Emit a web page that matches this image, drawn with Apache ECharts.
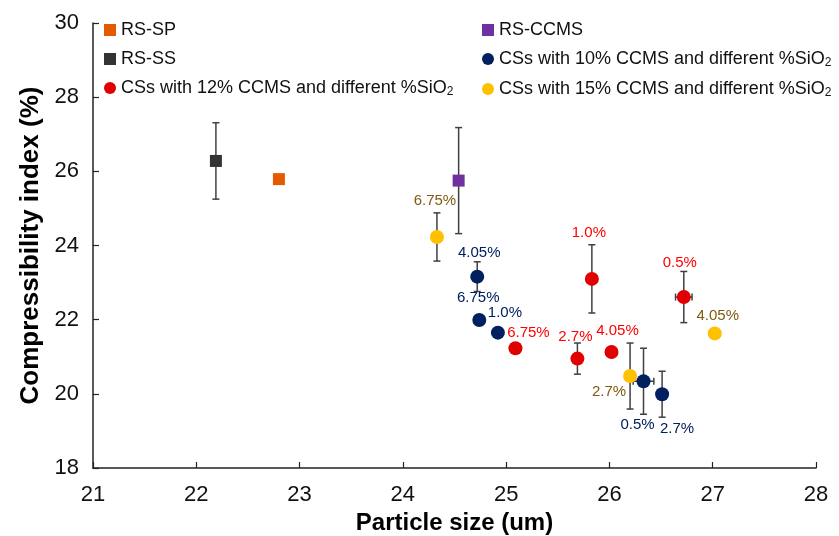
<!DOCTYPE html>
<html>
<head>
<meta charset="utf-8">
<script src="https://cdn.jsdelivr.net/npm/echarts@6/dist/echarts.min.js"></script>
<style>
  html, body { margin: 0; padding: 0; background: #fff; }
  #chart { width: 839px; height: 536px; }
</style>
</head>
<body>
<div id="chart"></div>
<script>
// Particle size (um), compressibility index (%), and standard deviations
const rsSpX = [22.80];  const rsSpY = [25.79];  const rsSpYErr = [0];    const rsSpXErr = [0.04];
const rsSsX = [22.19];  const rsSsY = [26.28];  const rsSsYErr = [1.03]; const rsSsXErr = [0];
const rsCcmsX = [24.54]; const rsCcmsY = [25.75]; const rsCcmsYErr = [1.43]; const rsCcmsXErr = [0];

// Composite samples, by SiO2 content
const cs12Labels = ['0.5%', '1.0%', '2.7%', '4.05%', '6.75%'];
const cs12X = [26.72, 25.83, 25.69, 26.02, 25.09];
const cs12Y = [22.61, 23.10, 20.95, 21.13, 21.23];
const cs12YErr = [0.69, 0.92, 0.42, 0, 0];
const cs12XErr = [0.08, 0, 0, 0, 0.03];

const cs10Labels = ['0.5%', '1.0%', '2.7%', '4.05%', '6.75%'];
const cs10X = [26.33, 24.92, 26.51, 24.72, 24.74];
const cs10Y = [20.34, 21.65, 19.99, 23.16, 21.99];
const cs10YErr = [0.89, 0, 0.62, 0.40, 0];
const cs10XErr = [0.10, 0, 0, 0, 0];

const cs15Labels = ['2.7%', '4.05%', '6.75%'];
const cs15X = [26.20, 27.02, 24.33];
const cs15Y = [20.48, 21.63, 24.23];
const cs15YErr = [0.89, 0, 0.65];
const cs15XErr = [0, 0.05, 0];

const xTicks = [21, 22, 23, 24, 25, 26, 27, 28];
const yTicks = [18, 20, 22, 24, 26, 28, 30];

// Label nudges (px) relative to each marker
const cs12LabelOffsets = [[-4, -34], [-3, -46], [-2, -22], [6, -21], [13, -15]];
const cs10LabelOffsets = [[-6, 44], [7, -20], [15, 35], [2, -24], [-1, -22]];
const cs15LabelOffsets = [[-21, 16], [3, -18], [-2, -36]];

const rows = (xs, ys, ye, xe) => xs.map((x, i) => [x, ys[i], ye[i], xe[i]]);

const FONT = 'Liberation Sans, Arial, sans-serif';
const NARROW = 'Liberation Sans Narrow, Arial Narrow, Liberation Sans, Arial, sans-serif';

function errorBars(data) {
  return {
    type: 'custom',
    data: data,
    z: 1,
    silent: true,
    encode: { x: 0, y: 1 },
    renderItem: function (params, api) {
      const x = api.value(0), y = api.value(1), ye = api.value(2), xe = api.value(3);
      const children = [];
      const style = { stroke: '#404040', lineWidth: 1.5 };
      const cap = 3.5;
      if (ye > 0) {
        const top = api.coord([x, y + ye]);
        const bot = api.coord([x, y - ye]);
        children.push({ type: 'line', shape: { x1: top[0], y1: top[1], x2: bot[0], y2: bot[1] }, style });
        children.push({ type: 'line', shape: { x1: top[0] - cap, y1: top[1], x2: top[0] + cap, y2: top[1] }, style });
        children.push({ type: 'line', shape: { x1: bot[0] - cap, y1: bot[1], x2: bot[0] + cap, y2: bot[1] }, style });
      }
      if (xe > 0) {
        const l = api.coord([x - xe, y]);
        const r = api.coord([x + xe, y]);
        children.push({ type: 'line', shape: { x1: l[0], y1: l[1], x2: r[0], y2: r[1] }, style });
        children.push({ type: 'line', shape: { x1: l[0], y1: l[1] - cap, x2: l[0], y2: l[1] + cap }, style });
        children.push({ type: 'line', shape: { x1: r[0], y1: r[1] - cap, x2: r[0], y2: r[1] + cap }, style });
      }
      return { type: 'group', children };
    }
  };
}

function points(name, data, symbol, size, color, labels, offsets, labelColor) {
  return {
    name: name,
    type: 'scatter',
    z: 3,
    symbol: symbol,
    symbolSize: size,
    itemStyle: { color: color, opacity: 1 },
    data: data.map((d, i) => {
      const item = { value: d };
      if (labels) {
        item.label = {
          show: true,
          position: 'inside',
          offset: offsets[i],
          formatter: labels[i],
          color: labelColor,
          fontFamily: FONT,
          fontSize: 15
        };
      }
      return item;
    }),
    emphasis: { disabled: true }
  };
}

const series12 = 'CSs with 12% CCMS and different %SiO2';
const series10 = 'CSs with 10% CCMS and different %SiO2';
const series15 = 'CSs with 15% CCMS and different %SiO2';

const legendText = {
  fontFamily: FONT,
  fontSize: 18,
  color: '#111',
  rich: {
    n: { fontFamily: FONT, fontSize: 18, color: '#111' },
    sub: { fontFamily: FONT, fontSize: 12, color: '#111', verticalAlign: 'bottom', padding: [8, 0, 0, 0] }
  }
};
const legendFormatter = function (name) {
  if (name.endsWith('SiO2')) return '{n|' + name.slice(0, -1) + '}{sub|2}';
  return '{n|' + name + '}';
};

const chart = echarts.init(document.getElementById('chart'), null, { renderer: 'canvas' });
chart.setOption({
  animation: false,
  backgroundColor: '#fff',
  grid: { left: 93, right: 23, top: 23, bottom: 68, containLabel: false, outerBoundsMode: 'none' },
  legend: [
    {
      data: [
        { name: 'RS-SP', icon: 'rect' },
        { name: 'RS-SS', icon: 'rect' },
        { name: series12, icon: 'circle' }
      ],
      orient: 'vertical', left: 104, top: 21, padding: 0, itemGap: 11, itemWidth: 12, itemHeight: 12,
      textStyle: legendText, formatter: legendFormatter, selectedMode: false
    },
    {
      data: [
        { name: 'RS-CCMS', icon: 'rect' },
        { name: series10, icon: 'circle' },
        { name: series15, icon: 'circle' }
      ],
      orient: 'vertical', left: 482, top: 21, padding: 0, itemGap: 11, itemWidth: 12, itemHeight: 12,
      textStyle: legendText, formatter: legendFormatter, selectedMode: false
    }
  ],
  xAxis: {
    type: 'value',
    min: xTicks[0], max: xTicks[xTicks.length - 1], interval: xTicks[1] - xTicks[0],
    name: 'Particle size (um)', nameLocation: 'middle', nameGap: 43,
    nameTextStyle: { fontFamily: NARROW, fontSize: 24, fontWeight: 'bold', color: '#000' },
    axisLine: { show: true, onZero: false, lineStyle: { color: '#222', width: 1.5 } },
    axisTick: { show: true, inside: true, length: 6, lineStyle: { color: '#222', width: 1.2 } },
    axisLabel: { fontFamily: NARROW, fontSize: 22, color: '#111', margin: 16 },
    splitLine: { show: false }
  },
  yAxis: {
    type: 'value',
    min: yTicks[0], max: yTicks[yTicks.length - 1], interval: yTicks[1] - yTicks[0],
    name: 'Compressibility index (%)', nameLocation: 'middle', nameGap: 49,
    nameTextStyle: { fontFamily: NARROW, fontSize: 26, fontWeight: 'bold', color: '#000' },
    axisLine: { show: true, onZero: false, lineStyle: { color: '#222', width: 1.5 } },
    axisTick: { show: true, inside: true, length: 6, lineStyle: { color: '#222', width: 1.2 } },
    axisLabel: { fontFamily: NARROW, fontSize: 22, color: '#111', margin: 14 },
    splitLine: { show: false }
  },
  series: [
    errorBars(rows(rsSsX, rsSsY, rsSsYErr, rsSsXErr)),
    errorBars(rows(rsSpX, rsSpY, rsSpYErr, rsSpXErr)),
    errorBars(rows(rsCcmsX, rsCcmsY, rsCcmsYErr, rsCcmsXErr)),
    errorBars(rows(cs12X, cs12Y, cs12YErr, cs12XErr)),
    errorBars(rows(cs10X, cs10Y, cs10YErr, cs10XErr)),
    errorBars(rows(cs15X, cs15Y, cs15YErr, cs15XErr)),
    points('RS-SP', rows(rsSpX, rsSpY, rsSpYErr, rsSpXErr), 'rect', 12, '#E35B00'),
    points('RS-SS', rows(rsSsX, rsSsY, rsSsYErr, rsSsXErr), 'rect', 12, '#333333'),
    points(series12, rows(cs12X, cs12Y, cs12YErr, cs12XErr), 'circle', 14, '#E00000', cs12Labels, cs12LabelOffsets, '#FF0000'),
    points('RS-CCMS', rows(rsCcmsX, rsCcmsY, rsCcmsYErr, rsCcmsXErr), 'rect', 12, '#7030A0'),
    points(series10, rows(cs10X, cs10Y, cs10YErr, cs10XErr), 'circle', 14, '#002060', cs10Labels, cs10LabelOffsets, '#002060'),
    points(series15, rows(cs15X, cs15Y, cs15YErr, cs15XErr), 'circle', 14, '#FFC000', cs15Labels, cs15LabelOffsets, '#7F5A10')
  ]
});
</script>
</body>
</html>
